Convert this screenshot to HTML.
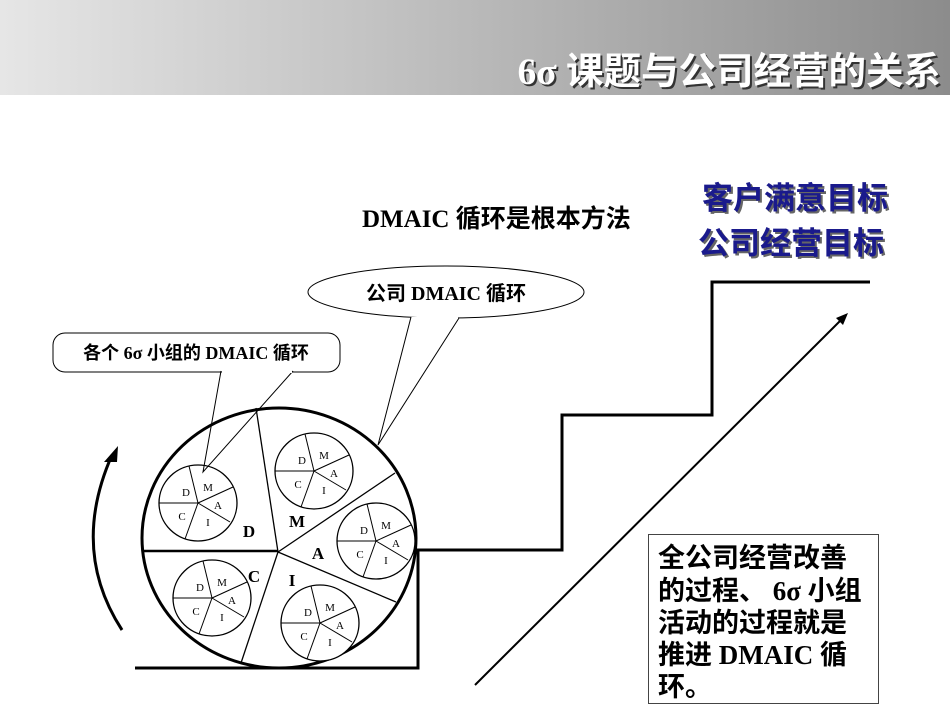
<!DOCTYPE html>
<html><head><meta charset="utf-8"><style>
html,body{margin:0;padding:0;background:#fff;}
svg{display:block;}
</style></head><body>
<svg width="950" height="713" viewBox="0 0 950 713" xmlns="http://www.w3.org/2000/svg">
<defs>
<linearGradient id="hg" x1="0" y1="0" x2="1" y2="0">
<stop offset="0" stop-color="#e6e6e6"/><stop offset="1" stop-color="#8c8c8c"/>
</linearGradient>
<g id="sp">
<ellipse cx="0" cy="0" rx="39" ry="38" fill="#fff" stroke="#000" stroke-width="1.3"/>
<g stroke="#000" stroke-width="1">
<line x1="0" y1="0" x2="-39" y2="0"/><line x1="0" y1="0" x2="-9" y2="-37"/>
<line x1="0" y1="0" x2="35" y2="-16"/><line x1="0" y1="0" x2="32" y2="19"/>
<line x1="0" y1="0" x2="-13" y2="36"/></g>
<g font-family="Liberation Serif,serif" font-size="11" text-anchor="middle">
<text x="-12" y="-7">D</text><text x="10" y="-12">M</text><text x="20" y="6">A</text>
<text x="10" y="23">I</text><text x="-16" y="17">C</text></g>
</g>
</defs>
<rect x="0" y="0" width="950" height="95" fill="url(#hg)"/>
<g font-family="Liberation Serif,'Noto Sans CJK SC',sans-serif" font-size="37.5" font-weight="bold" text-anchor="end">
<text x="943" y="86" fill="#333">6σ 课题与公司经营的关系</text>
<text x="941" y="84" fill="#fff">6σ 课题与公司经营的关系</text>
</g>
<text x="362" y="227" font-family="Liberation Serif,'Noto Sans CJK SC',sans-serif" font-size="25" font-weight="bold">DMAIC 循环是根本方法</text>
<g font-family="Liberation Sans,'Noto Sans CJK SC',sans-serif" font-size="31" font-weight="bold">
<text x="704" y="211" fill="#666">客户满意目标</text><text x="702" y="209" fill="#1a1a8c">客户满意目标</text>
<text x="700" y="256" fill="#666">公司经营目标</text><text x="698" y="254" fill="#1a1a8c">公司经营目标</text>
</g>
<polyline points="135,668 418,668 418,550 562,550 562,415 712,415 712,282 870,282" fill="none" stroke="#000" stroke-width="3"/>
<line x1="475" y1="685" x2="842" y2="319" stroke="#000" stroke-width="2"/>
<polygon points="848,313 836,318 843,325" fill="#000"/>
<path d="M122,630 Q70,550 112,455" fill="none" stroke="#000" stroke-width="3"/>
<polygon points="118,446 104,462 117,462" fill="#000"/>
<ellipse cx="279" cy="538" rx="137" ry="130" fill="#fff" stroke="#000" stroke-width="3"/>
<g stroke="#000" stroke-width="1.3">
<line x1="278" y1="552" x2="256" y2="408"/><line x1="278" y1="552" x2="395" y2="473"/>
<line x1="278" y1="552" x2="396" y2="602"/><line x1="278" y1="552" x2="241" y2="663"/>
</g>
<line x1="278" y1="551" x2="143" y2="551" stroke="#000" stroke-width="2.5"/>
<use href="#sp" x="198" y="503"/><use href="#sp" x="314" y="471"/><use href="#sp" x="376" y="541"/>
<use href="#sp" x="212" y="598"/><use href="#sp" x="320" y="623"/>
<g font-family="Liberation Serif,serif" font-size="17" font-weight="bold" text-anchor="middle">
<text x="249" y="537">D</text><text x="297" y="527">M</text><text x="318" y="559">A</text>
<text x="292" y="586">I</text><text x="254" y="582">C</text></g>
<ellipse cx="446" cy="292" rx="138" ry="26" fill="#fff" stroke="#000" stroke-width="1"/>
<polyline points="411,317 378,445 459,318" fill="#fff" stroke="#000" stroke-width="1"/>
<line x1="412" y1="318" x2="458" y2="318" stroke="#fff" stroke-width="2"/>
<text x="446" y="300" font-family="Liberation Serif,'Noto Sans CJK SC',sans-serif" font-size="20" font-weight="bold" text-anchor="middle">公司 DMAIC 循环</text>
<rect x="53" y="333" width="287" height="39" rx="12" fill="#fff" stroke="#000" stroke-width="1"/>
<polyline points="221,371 203,472 293,371" fill="none" stroke="#000" stroke-width="1"/>
<line x1="222" y1="372" x2="292" y2="372" stroke="#fff" stroke-width="2"/>
<text x="196" y="359" font-family="Liberation Serif,'Noto Sans CJK SC',sans-serif" font-size="18" font-weight="bold" text-anchor="middle">各个 6σ 小组的 DMAIC 循环</text>
<rect x="648.5" y="534.5" width="230" height="169" fill="#fff" stroke="#444" stroke-width="1"/>
<g font-family="Liberation Serif,'Noto Sans CJK SC',sans-serif" font-size="27" font-weight="bold">
<text x="658" y="567">全公司经营改善</text>
<text x="658" y="600">的过程、 6σ 小组</text>
<text x="658" y="632">活动的过程就是</text>
<text x="658" y="664">推进 DMAIC 循</text>
<text x="658" y="696">环。</text>
</g>
</svg>
</body></html>
